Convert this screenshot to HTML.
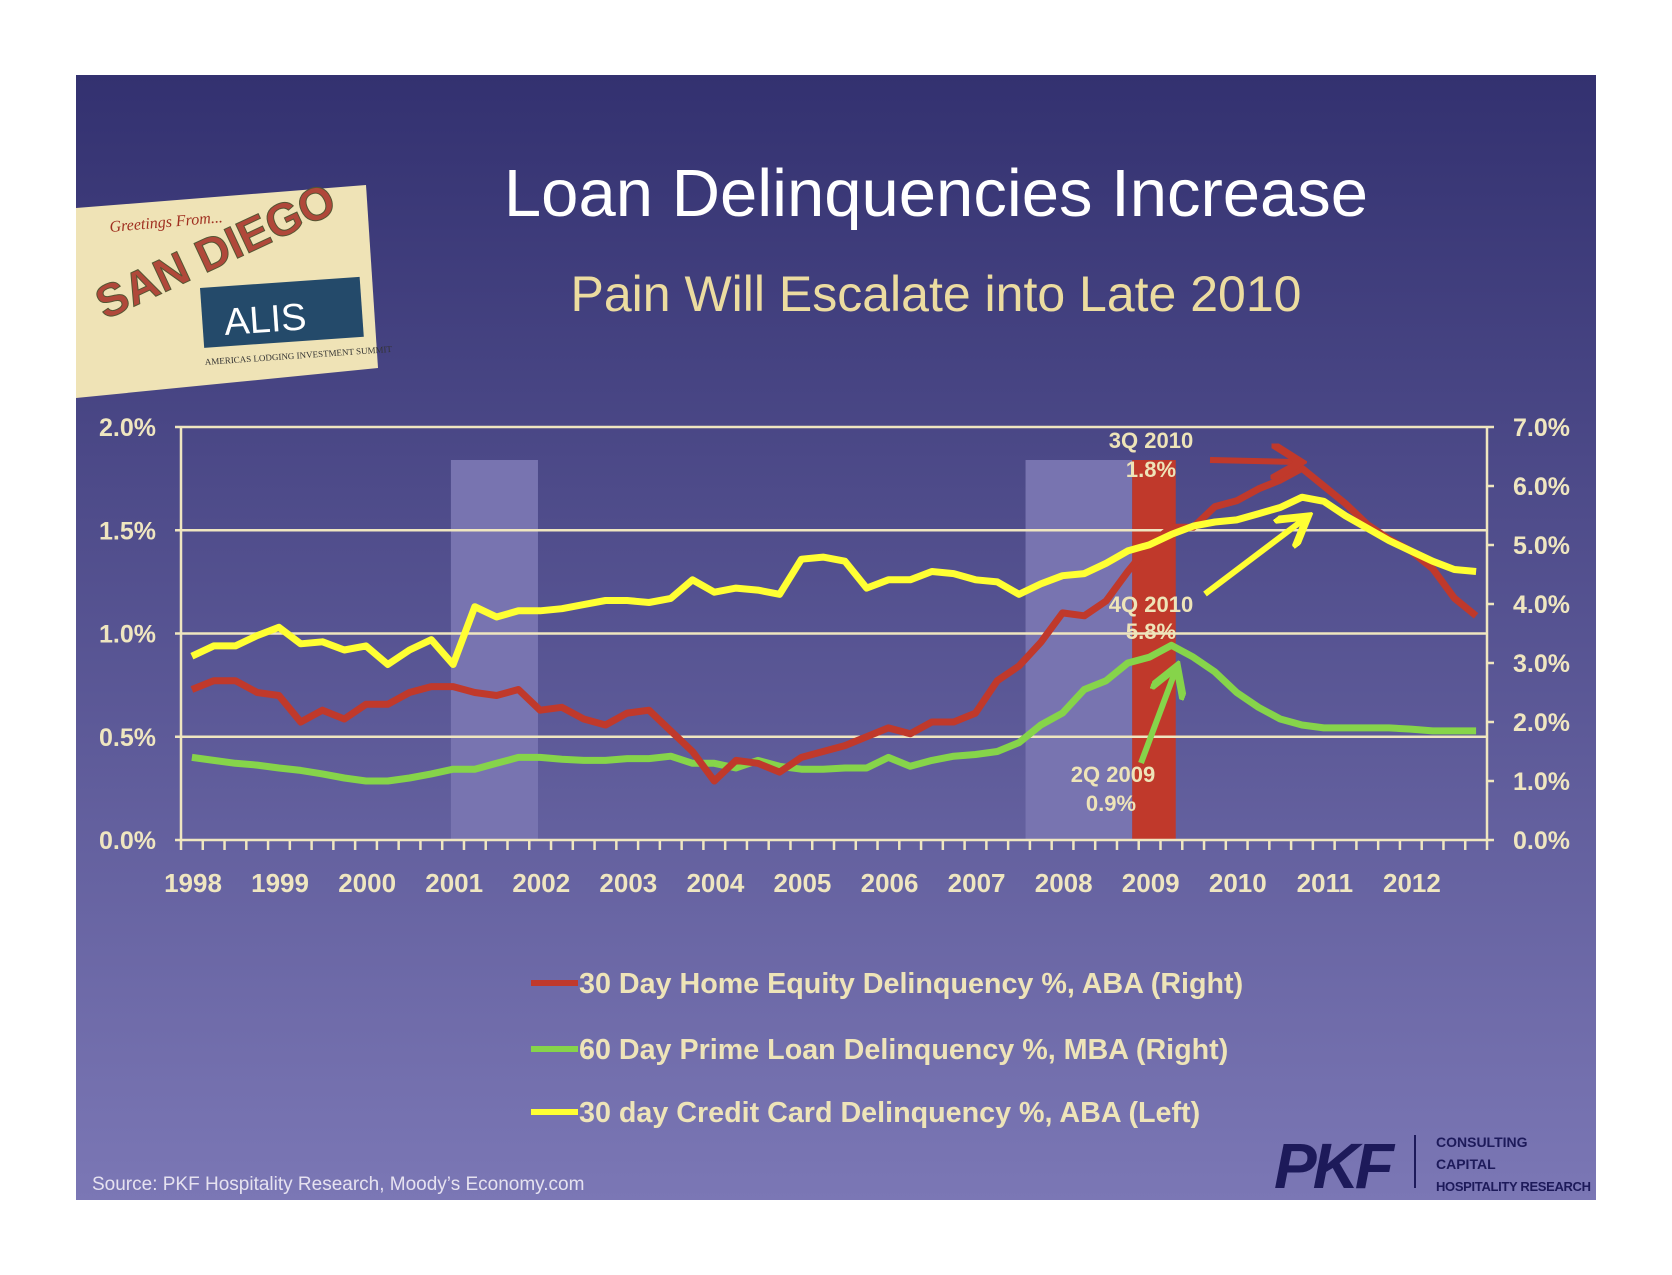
<!DOCTYPE html>
<html><head><meta charset="utf-8"><style>
html,body{margin:0;padding:0;background:#fff;}
svg{display:block;font-family:"Liberation Sans",Arial,sans-serif;}
</style></head><body>
<svg id="chart" width="1672" height="1275" viewBox="0 0 1672 1275">
<defs>
<linearGradient id="bg" x1="0" y1="0" x2="0" y2="1">
<stop offset="0" stop-color="#333170"/><stop offset="1" stop-color="#7b77b5"/>
</linearGradient>
<marker id="ah-r" markerWidth="6" markerHeight="6" refX="4" refY="3" orient="auto"><path d="M0,0 L5,3 L0,6" fill="none" stroke="#c0392b" stroke-width="1.3"/></marker>
<marker id="ah-y" markerWidth="6" markerHeight="6" refX="4" refY="3" orient="auto"><path d="M0,0 L5,3 L0,6" fill="none" stroke="#ffff33" stroke-width="1.3"/></marker>
<marker id="ah-g" markerWidth="6" markerHeight="6" refX="4" refY="3" orient="auto"><path d="M0,0 L5,3 L0,6" fill="none" stroke="#86d44a" stroke-width="1.3"/></marker>
</defs>
<rect x="76" y="75" width="1520" height="1125" fill="url(#bg)"/>
<g>
<polygon points="76,208 366,185 378,368 76,398" fill="#efe3b6"/>
<text x="110" y="232" font-size="16" font-style="italic" fill="#a03020" font-family="Liberation Serif,serif" transform="rotate(-5 110 232)">Greetings From...</text>
<text x="105" y="320" font-size="46" font-weight="bold" fill="#b0483a" stroke="#553" stroke-width="1" transform="rotate(-25 105 320)">SAN DIEGO</text>
<rect x="200" y="288" width="160" height="60" fill="#244a6a" transform="rotate(-4 200 288)"/>
<text x="225" y="335" font-size="38" fill="#fff" transform="rotate(-4 225 335)">ALIS</text>
<text x="205" y="365" font-size="9" fill="#333" font-family="Liberation Serif,serif" transform="rotate(-4 205 365)">AMERICAS LODGING INVESTMENT SUMMIT</text>
</g>
<text x="936" y="216" text-anchor="middle" font-size="67" fill="#ffffff">Loan Delinquencies Increase</text>
<text x="936" y="311" text-anchor="middle" font-size="50" fill="#ecdca0">Pain Will Escalate into Late 2010</text>
<g id="plot"></g>
<g>
<g><line x1="531" y1="983" x2="578" y2="983" stroke="#c0392b" stroke-width="6"/><text x="579" y="993" font-size="28.7" font-weight="bold" fill="#eee4b8">30 Day Home Equity Delinquency %, ABA (Right)</text></g>
<g><line x1="531" y1="1049" x2="578" y2="1049" stroke="#86d44a" stroke-width="6"/><text x="579" y="1059" font-size="28.7" font-weight="bold" fill="#eee4b8">60 Day Prime Loan Delinquency %, MBA (Right)</text></g>
<g><line x1="531" y1="1112" x2="578" y2="1112" stroke="#ffff33" stroke-width="6"/><text x="579" y="1122" font-size="28.7" font-weight="bold" fill="#eee4b8">30 day Credit Card Delinquency %, ABA (Left)</text></g>
</g>
<text x="92" y="1190" font-size="19" fill="#e6e2f0">Source: PKF Hospitality Research,  Moody’s Economy.com</text>
<g>
<text x="1274" y="1188" font-size="64" font-weight="bold" font-style="italic" fill="#1d1a5a" letter-spacing="-4">PKF</text>
<line x1="1415" y1="1135" x2="1415" y2="1188" stroke="#1d1a5a" stroke-width="2"/>
<text x="1436" y="1147" font-size="14" font-weight="bold" fill="#1d1a5a">CONSULTING</text>
<text x="1436" y="1169" font-size="14" font-weight="bold" fill="#1d1a5a">CAPITAL</text>
<text x="1436" y="1191" font-size="13" font-weight="bold" fill="#1d1a5a" textLength="155">HOSPITALITY RESEARCH</text>
</g>
</svg>
<script>
const years = ["1998","1999","2000","2001","2002","2003","2004","2005","2006","2007","2008","2009","2010","2011","2012"];
const leftTicks = ["0.0%","0.5%","1.0%","1.5%","2.0%"];
const leftTickValues = [0,0.5,1.0,1.5,2.0];
const rightTicks = ["0.0%","1.0%","2.0%","3.0%","4.0%","5.0%","6.0%","7.0%"];
const rightTickValues = [0,1,2,3,4,5,6,7];
const creditCard = [0.89,0.94,0.94,0.99, 1.03,0.95,0.96,0.92, 0.94,0.85,0.92,0.97, 0.85,1.13,1.08,1.11, 1.11,1.12,1.14,1.16, 1.16,1.15,1.17,1.26, 1.20,1.22,1.21,1.19, 1.36,1.37,1.35,1.22, 1.26,1.26,1.30,1.29, 1.26,1.25,1.19,1.24, 1.28,1.29,1.34,1.40, 1.43,1.48,1.52,1.54, 1.55,1.58,1.61,1.66, 1.64,1.57,1.51,1.45, 1.40,1.35,1.31,1.30];
const homeEquity = [2.55,2.7,2.7,2.5, 2.45,2.0,2.2,2.05, 2.3,2.3,2.5,2.6, 2.6,2.5,2.45,2.55, 2.2,2.25,2.05,1.95, 2.15,2.2,1.85,1.5, 1.0,1.35,1.3,1.15, 1.4,1.5,1.6,1.75, 1.9,1.8,2.0,2.0, 2.15,2.7,2.95,3.35, 3.85,3.8,4.05,4.55, 5.0,5.3,5.3,5.65, 5.75,5.95,6.1,6.3, 6.0,5.7,5.35,5.1, 4.9,4.6,4.1,3.8];
const primeLoan = [1.4,1.35,1.3,1.27, 1.22,1.18,1.12,1.05, 1.0,1.0,1.05,1.12, 1.2,1.2,1.3,1.4, 1.4,1.37,1.35,1.35, 1.38,1.38,1.42,1.3, 1.3,1.22,1.35,1.25, 1.2,1.2,1.22,1.22, 1.4,1.25,1.35,1.42, 1.45,1.5,1.65,1.95, 2.15,2.55,2.7,3.0, 3.1,3.3,3.1,2.85, 2.5,2.25,2.05,1.95, 1.9,1.9,1.9,1.9, 1.88,1.85,1.85,1.85];
const recessions = [[12.4,16.4],[38.8,43.7]];
const highlight = [43.7,45.7];

const L=181,R=1487,T=427,B=840,N=60,NS="http://www.w3.org/2000/svg";
const qw=(R-L)/N;
const xq=i=>L+(i+0.5)*qw;
const xe=i=>L+i*qw;
const yL=v=>B-(v/2)*(B-T);
const yR=v=>B-(v/7)*(B-T);
const plot=document.getElementById('plot');
function mk(tag,attrs,parent){const e=document.createElementNS(NS,tag);for(const k in attrs)e.setAttribute(k,attrs[k]);(parent||plot).appendChild(e);return e;}
const cream="#efe6c0";
recessions.forEach(r=>{
  const e=mk('rect',{x:xe(r[0]),y:460,width:xe(r[1])-xe(r[0]),height:B-460,fill:"#7874b0"});
  
  
});
{const e=mk('rect',{x:xe(highlight[0]),y:460,width:xe(highlight[1])-xe(highlight[0]),height:B-460,fill:"#c0392b"});

}
leftTickValues.forEach((v,i)=>{
  const g=mk('line',{x1:L-6,x2:R,y1:yL(v),y2:yL(v),stroke:cream,"stroke-width":2.5});
  
  
  const t=mk('text',{x:156,y:yL(v)+9,"text-anchor":"end","font-size":25,"font-weight":"bold",fill:cream});
  t.textContent=leftTicks[i];
  
  
});
rightTickValues.forEach((v,i)=>{
  mk('line',{x1:R,x2:R+7,y1:yR(v),y2:yR(v),stroke:cream,"stroke-width":2.5});
  const t=mk('text',{x:1513,y:yR(v)+9,"font-size":25,"font-weight":"bold",fill:cream});
  t.textContent=rightTicks[i];
  
  
});
{const a=mk('line',{x1:L,x2:L,y1:T,y2:B,stroke:cream,"stroke-width":2.5});


const b=mk('line',{x1:R,x2:R,y1:T,y2:B,stroke:cream,"stroke-width":2.5});

}
for(let i=0;i<=N;i++) mk('line',{x1:xe(i),x2:xe(i),y1:B,y2:B+10,stroke:cream,"stroke-width":2.5});
years.forEach((y,i)=>{
  const t=mk('text',{x:xe(i*4)+12,y:B+52,"text-anchor":"middle","font-size":26,"font-weight":"bold",fill:cream});
  t.textContent=y;
  
  
});
function series(data,yf,color,name){
  const d=data.map((v,i)=>(i?'L':'M')+xq(i).toFixed(1)+','+yf(v).toFixed(1)).join(' ');
  const p=mk('path',{d:d,fill:"none",stroke:color,"stroke-width":7,"stroke-linejoin":"round"});
  
  
}
series(primeLoan,yR,"#86d44a",'prime-loan-line');
series(homeEquity,yR,"#c0392b",'home-equity-line');
series(creditCard,yL,"#ffff33",'credit-card-line');
function ann(x,y,txt,name){const t=mk('text',{x:x,y:y,"text-anchor":"middle","font-size":22,"font-weight":"bold",fill:"#eee4b8"});t.textContent=txt;

}
ann(1151,448,"3Q 2010",'annotation-3q2010');ann(1151,477,"1.8%",'annotation-3q2010-value');
ann(1151,612,"4Q 2010",'annotation-4q2010');ann(1151,639,"5.8%",'annotation-4q2010-value');
ann(1113,782,"2Q 2009",'annotation-2q2009');ann(1111,811,"0.9%",'annotation-2q2009-value');
function arrow(x1,y1,x2,y2,c,m,name){const a=mk('line',{x1,y1,x2,y2,stroke:c,"stroke-width":6,"marker-end":"url(#"+m+")"});

}
arrow(1210,460,1295,462,"#c0392b","ah-r",'arrow-red');
arrow(1205,594,1303,520,"#ffff33","ah-y",'arrow-yellow');
arrow(1141,763,1175,672,"#86d44a","ah-g",'arrow-green');
</script>
</body></html>
